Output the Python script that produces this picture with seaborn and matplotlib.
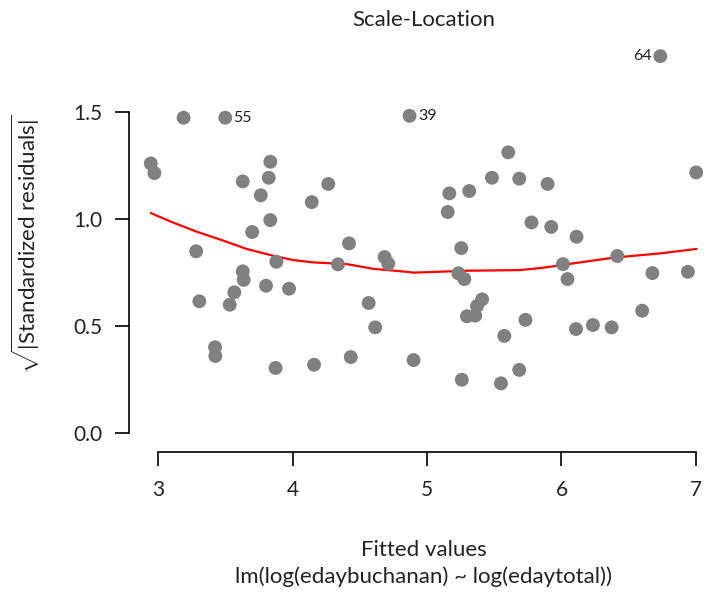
import numpy as np
import pandas as pd
import matplotlib
matplotlib.use("Agg")
import matplotlib.pyplot as plt
import seaborn as sns

# fitted values and sqrt(|standardized residuals|)
fitted = [3.19, 3.50, 4.87, 2.946, 2.973, 3.835, 3.63, 3.823, 3.764, 4.266,
          4.143, 3.835, 3.70, 6.735, 5.604, 5.483, 5.686, 5.897, 5.314, 5.166,
          5.154, 7.002, 5.777, 5.924, 6.112, 3.283, 4.42, 3.88, 3.63, 3.637,
          4.338, 4.685, 4.712, 3.803, 3.974, 3.567, 3.533, 3.307, 4.566, 4.615,
          3.424, 3.426, 3.874, 4.16, 4.433, 4.90, 5.255, 6.415, 6.011, 5.233,
          5.278, 6.045, 6.676, 6.94, 5.41, 5.372, 5.297, 5.359, 5.732, 6.60,
          5.575, 6.108, 6.234, 6.373, 5.259, 5.55, 5.686]
sqrt_res = [1.475, 1.475, 1.484, 1.261, 1.216, 1.269, 1.177, 1.194, 1.112, 1.165,
            1.080, 0.996, 0.940, 1.763, 1.313, 1.194, 1.190, 1.165, 1.132, 1.121,
            1.034, 1.219, 0.985, 0.964, 0.918, 0.850, 0.887, 0.801, 0.756, 0.716,
            0.789, 0.823, 0.792, 0.689, 0.675, 0.658, 0.600, 0.616, 0.608, 0.494,
            0.401, 0.360, 0.304, 0.319, 0.355, 0.341, 0.865, 0.828, 0.790, 0.747,
            0.720, 0.720, 0.748, 0.754, 0.625, 0.594, 0.546, 0.549, 0.529, 0.572,
            0.454, 0.486, 0.505, 0.494, 0.249, 0.232, 0.295]

# lowess smoother (red line)
smooth_x = [2.946, 3.114, 3.287, 3.485, 3.659, 3.857, 4.006, 4.155, 4.403, 4.60,
            4.849, 4.898, 5.295, 5.691, 5.864, 6.038, 6.385, 6.732, 7.005]
smooth_y = [1.029, 0.984, 0.942, 0.900, 0.861, 0.829, 0.809, 0.798, 0.790, 0.768,
            0.754, 0.750, 0.759, 0.762, 0.773, 0.789, 0.820, 0.840, 0.861]

# labelled extreme points
label_ids = ["55", "39", "64"]
label_x = [3.50, 4.87, 6.735]
label_y = [1.475, 1.484, 1.763]

df = pd.DataFrame({"fitted": fitted, "sqrt_res": sqrt_res})
smooth = pd.DataFrame({"x": smooth_x, "y": smooth_y})

sns.set_style("ticks")
plt.rcParams["font.family"] = ["Lato", "DejaVu Sans"]
plt.rcParams["mathtext.fontset"] = "custom"
plt.rcParams["mathtext.rm"] = "Lato"
plt.rcParams["mathtext.it"] = "Lato:italic"
plt.rcParams["mathtext.bf"] = "Lato:bold"

fs = 16

fig = plt.figure(figsize=(7.05, 5.94), dpi=100)
ax = fig.add_axes([129 / 705, 1 - 448 / 594, 589 / 705, 407 / 594])

sns.scatterplot(data=df, x="fitted", y="sqrt_res", ax=ax, color="#808080",
                s=100, edgecolor="none", zorder=3)
sns.lineplot(data=smooth, x="x", y="y", ax=ax, color="red", lw=1.6,
             sort=False, estimator=None, zorder=2)

offsets = [(6, 0, "left"), (6, 0, "left"), (-6, 0, "right")]
for lab, xv, yv, (dx, dy, ha) in zip(label_ids, label_x, label_y, offsets):
    ax.annotate(lab, (xv, yv), xytext=(dx, dy), textcoords="offset points",
                ha=ha, va="center", fontsize=11.5, color="#222222")

ax.set_xlim(2.784, 7.164)
ax.set_ylim(-0.0705, 1.834)
ax.set_xticks([3, 4, 5, 6, 7])
ax.set_yticks([0.0, 0.5, 1.0, 1.5])
ax.set_yticklabels(["0.0", "0.5", "1.0", "1.5"])
ax.tick_params(axis="both", length=10, width=1.2, labelsize=15,
               color="black", labelcolor="#222222")
ax.tick_params(axis="x", pad=10)
ax.tick_params(axis="y", pad=9)

sns.despine(ax=ax, trim=True)
ax.spines["bottom"].set_position(("outward", 3))
for sp in ["left", "bottom"]:
    ax.spines[sp].set_linewidth(1.2)
    ax.spines[sp].set_color("black")

ax.set_title("Scale-Location", fontsize=fs, pad=11, color="#222222")
ax.set_xlabel("Fitted values", fontsize=fs, color="#222222")
ax.xaxis.set_label_coords(0.5, -0.226)
ax.text(0.5, -0.291, "lm(log(edaybuchanan) ~ log(edaytotal))",
        transform=ax.transAxes, ha="center", va="top", fontsize=fs,
        color="#222222")
ax.set_ylabel(r"$\sqrt{|\mathrm{Standardized\ residuals}|}$", fontsize=fs,
              color="#222222")
ax.yaxis.set_label_coords(-0.148, 0.5)

fig.savefig("out.png", dpi=100)
